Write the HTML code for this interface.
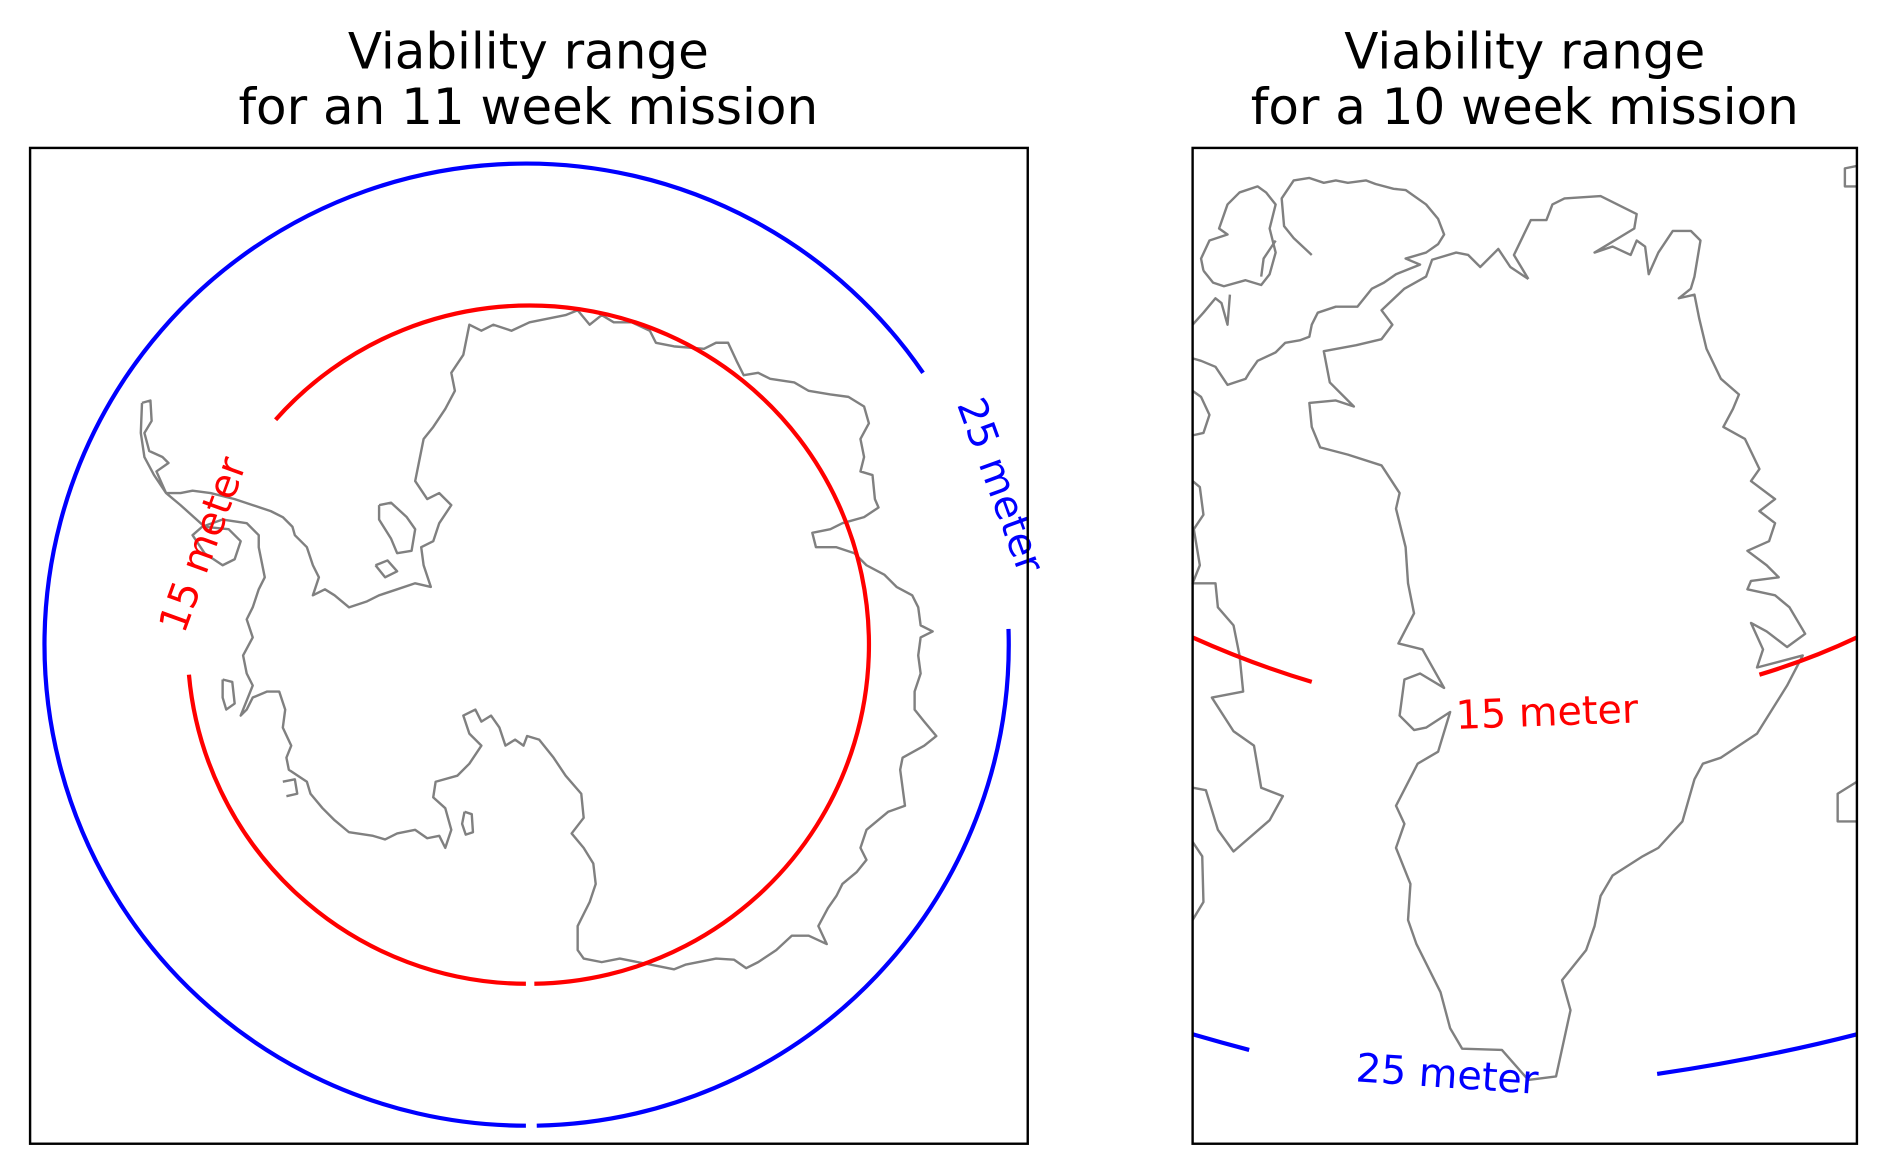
<!DOCTYPE html>
<html><head><meta charset="utf-8"><style>html,body{margin:0;padding:0;background:#fff}svg{display:block}</style></head>
<body>
<svg width="1887" height="1175" viewBox="0 0 1568 977" preserveAspectRatio="none" xmlns="http://www.w3.org/2000/svg" font-family="DejaVu Sans, Liberation Sans, sans-serif">
<rect width="1568" height="977" fill="#fff"/>
<g font-size="41.5" text-anchor="middle" fill="#000">
<text x="439" y="57">Viability range</text>
<text x="439" y="103">for an 11 week mission</text>
<text x="1267" y="57">Viability range</text>
<text x="1267" y="103">for a 10 week mission</text>
</g>
<g fill="none" stroke="#808080" stroke-width="2" stroke-linejoin="round">
<polyline points="118,335 125,333 126,350 120,360 124,375 135,380 140,385 130,392 138,410 150,410 160,408 175,410 195,415 210,420 225,425 235,430 243,438 245,445 255,455 260,470 265,480 260,495 270,490 278,495 290,505 305,500 315,495 330,490 345,485 358,488 352,470 350,455 360,450 365,435 375,420 365,410 355,415 345,400 348,385 352,365 360,355 370,340 378,325 375,310 385,295 390,270 400,275 410,270 425,275 440,268 455,265 470,262 480,258 490,270 500,262 510,268 525,268 540,275 545,285 560,288 585,290 595,285 605,285 612,300 618,312 630,310 640,315 660,318 672,325 690,328 705,330 718,338 722,352 715,365 718,380 715,392 725,395 727,415 730,422 718,430 700,435 690,440 675,443 678,455 695,455 710,460 720,470 735,478 745,488 758,495 763,505 765,520 775,525 765,530 763,545 765,560 760,575 760,590 768,600 778,612 768,620 750,630 748,640 750,655 752,670 738,675 720,690 715,705 720,715 712,725 700,735 695,745 688,755 680,770 687,785 672,778 658,778 645,790 630,800 620,805 610,798 595,797 570,802 560,806 545,803 530,800 515,797 500,800 485,797 480,790 480,770 485,760 490,750 495,735 493,718 485,705 475,693 485,680 483,660 470,645 460,630 448,615 438,612 435,620 428,615 420,620 415,605 408,595 400,600 395,590 385,595 390,610 400,620 390,635 380,645 362,650 360,663 370,672 375,690 370,705 365,695 355,697 345,690 330,693 320,698 310,695 290,692 278,682 268,672 258,660 255,650 240,640 238,630 242,620 235,605 237,590 232,575 222,575 210,580 205,590 200,595 210,570 205,560 202,545 210,530 205,515 210,505 215,490 220,480 218,470 215,455 215,445 205,435 185,432 168,438 160,445 170,460 185,470 195,465 200,450 190,440 170,438 150,420 138,410 128,395 120,380 117,360 118,335"/>
<polyline points="315,420 325,418 338,430 345,440 342,458 330,460 325,448 315,432 315,420"/>
<polyline points="185,565 193,567 195,585 188,590 185,580 185,565"/>
<polyline points="386,675 392,677 393,692 387,694 384,685 386,675"/>
<polyline points="312,470 322,466 330,475 320,480 312,470"/>
<polyline points="235,650 245,648 247,660 238,662"/>
<polyline points="1270,232 1258,212 1272,183 1285,183 1290,170 1300,165 1330,163 1360,178 1358,190 1325,210 1340,205 1355,212 1360,200 1367,205 1370,228 1378,210 1390,192 1405,192 1413,200 1408,230 1405,240 1395,248 1408,245 1412,265 1418,290 1430,315 1445,328 1440,340 1432,355 1450,365 1462,390 1455,400 1475,415 1462,425 1475,435 1470,450 1452,458 1468,470 1478,480 1455,483 1452,490 1475,495 1487,505 1500,527 1485,538 1468,525 1455,518 1465,540 1460,555 1498,545 1485,570 1460,610 1430,630 1415,635 1408,648 1398,683 1378,705 1365,712 1340,728 1330,745 1325,770 1318,790 1298,815 1305,840 1293,895 1270,898 1248,873 1215,872 1205,855 1197,825 1177,785 1170,765 1172,735 1160,705 1167,685 1160,670 1178,635 1195,625 1205,592 1185,605 1175,607 1163,595 1167,565 1180,560 1200,572 1182,540 1162,535 1175,510 1170,485 1168,455 1160,423 1163,410 1148,387 1120,378 1097,372 1090,355 1088,335 1110,333 1125,338 1105,318 1100,292 1127,287 1148,282 1157,270 1148,258 1167,240 1185,230 1190,216 1210,210 1220,212 1230,222 1245,207 1255,222 1270,232"/>
<polyline points="1000,225 1008,235 1017,238 1035,233 1048,237 1055,228 1060,210 1055,190 1060,170 1052,160 1045,155 1030,160 1020,170 1013,190 1020,195 1005,200 998,215 1000,225"/>
<polyline points="1090,212 1075,198 1067,188 1065,165 1075,150 1088,148 1100,152 1110,150 1120,152 1135,150 1143,153 1158,157 1168,158 1185,170 1195,182 1200,195 1195,203 1185,210 1168,215 1180,220 1160,228 1150,235 1140,240 1128,255 1110,255 1095,260 1090,270 1088,280 1080,283 1068,285 1060,293 1045,300 1038,310 1035,315 1020,320 1010,305 998,300 991,298"/>
<polyline points="1060,200 1050,215 1048,230"/>
<polyline points="991,270 1000,260 1010,248 1015,252 1020,270 1022,245"/>
<polyline points="991,325 998,330 1005,345 1000,360 991,362"/>
<polyline points="991,400 997,405 1000,428 992,440 997,470 991,485 1010,485 1012,505 1025,520 1030,545 1033,575 1007,580 1025,608 1042,620 1048,655 1066,662 1055,682 1025,708 1012,690 1002,657 991,655"/>
<polyline points="991,700 999,712 1000,750 991,765"/>
<polyline points="1543,155 1533,155 1533,140 1543,138"/>
<polyline points="1543,650 1527,660 1527,683 1543,683"/>
</g>
<g fill="none" stroke-width="3.5">
<path stroke="#0000ff" d="M838,523 A400,400 0 0 1 446,936"/>
<path stroke="#0000ff" d="M437,936 A400,400 0 1 1 767,310"/>
<path stroke="#ff0000" d="M157,561 A282,282 0 0 0 437,818"/>
<path stroke="#ff0000" d="M444,818 A282,282 0 1 0 229,349"/>
<path stroke="#ff0000" d="M991,530 Q1040,552 1090,567"/>
<path stroke="#ff0000" d="M1462,561 Q1505,548 1543,530"/>
<path stroke="#0000ff" d="M991,860 Q1015,867 1038,873"/>
<path stroke="#0000ff" d="M1377,893 Q1465,880 1543,860"/>
</g>
<g font-size="33">
<text fill="#0000ff" transform="translate(795,336) rotate(70)">25 meter</text>
<text fill="#ff0000" transform="translate(153,528) rotate(-70)">15 meter</text>
<text fill="#ff0000" transform="translate(1210,606) rotate(-2)">15 meter</text>
<text fill="#0000ff" transform="translate(1126,899) rotate(4)">25 meter</text>
</g>
<g fill="none" stroke="#000" stroke-width="2">
<rect x="25" y="123" width="829" height="828"/>
<rect x="991" y="123" width="552" height="828"/>
</g>
</svg>
</body></html>
